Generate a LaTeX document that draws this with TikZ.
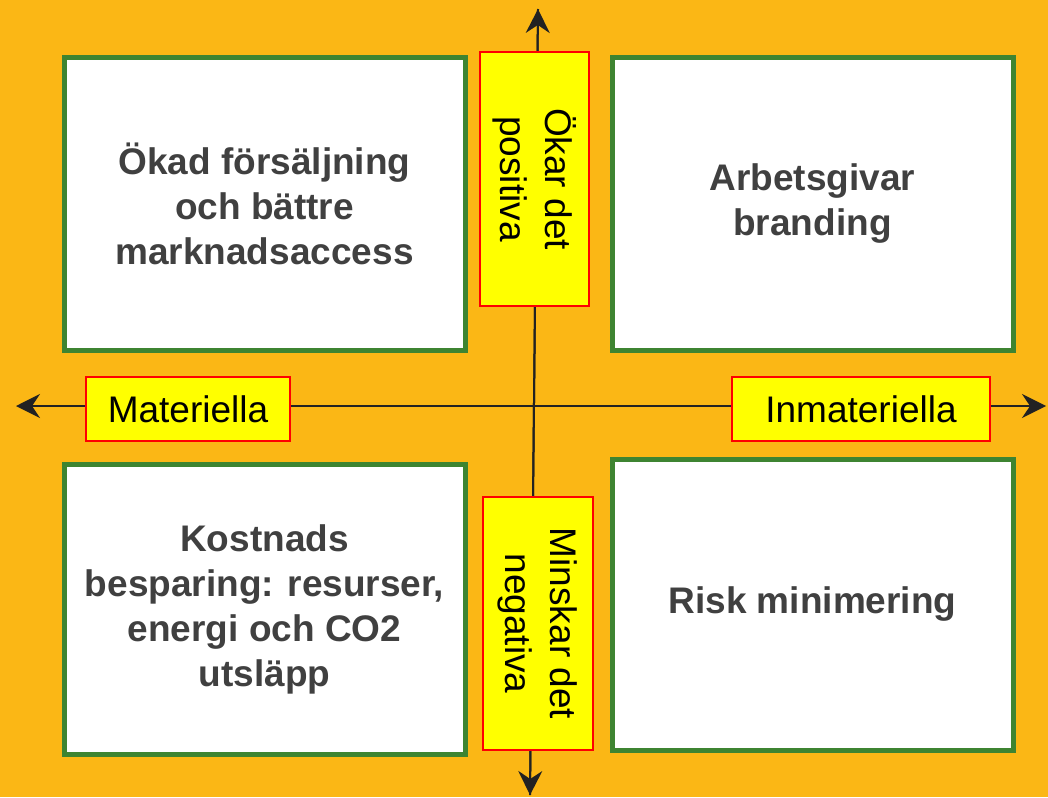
\documentclass[tikz,border=0pt]{standalone}
\usepackage{fontspec}
\setmainfont{Liberation Sans}
\usetikzlibrary{arrows.meta}
\definecolor{bg}{HTML}{FBB715}
\definecolor{boxgreen}{HTML}{3E8431}
\definecolor{txtgrey}{HTML}{404040}
\definecolor{lblyellow}{HTML}{FFFF00}
\definecolor{lblred}{HTML}{FF0000}
\definecolor{axis}{HTML}{222222}
\tikzset{
  quad/.style={draw=boxgreen, line width=5pt, fill=white, inner sep=0pt,
    minimum width=401pt, minimum height=292pt, align=center,
    font=\bfseries\fontsize{37}{45}\selectfont, text=txtgrey},
  lbl/.style={draw=lblred, line width=2pt, fill=lblyellow, inner sep=0pt,
    align=center, font=\fontsize{37}{45}\selectfont, text=black},
  axisline/.style={draw=axis, line width=2pt,
    -{Stealth[length=24pt, width=24pt, inset=8pt]}}
}
\begin{document}
\begin{tikzpicture}[x=1pt, y=-1pt]
\useasboundingbox[fill=bg] (0,0) rectangle (1048,797);
% axis end points
\coordinate (vtop) at (538,9);
\coordinate (vbot) at (530,795);
\coordinate (hleft) at (16,406);
\coordinate (hright) at (1046,406);
\coordinate (hmid) at (534,406);
\draw[axisline] (hmid) -- (hleft);
\draw[axisline] (hmid) -- (hright);
\draw[axisline] (vbot) -- (vtop);
\draw[axisline] (vtop) -- (vbot);
% quadrant boxes
\node[quad] (tl) at (264.5,204) {Ökad försäljning\\och bättre\\marknadsaccess};
\node[quad] (tr) at (812.5,204) {Arbetsgivar\\branding};
\node[quad, minimum height=290pt] (bl) at (264.5,609) {Kostnads\\besparing: resurser,\\energi och CO2\\utsläpp};
\node[quad, minimum height=291pt] (br) at (812.5,604.5) {Risk minimering};
% axis labels
\node[lbl, minimum width=204pt, minimum height=64pt] (mat) at (188,409) {Materiella};
\node[lbl, minimum width=258pt, minimum height=64pt] (inmat) at (861,409) {Inmateriella};
\node[lbl, rotate=-90, minimum width=254pt, minimum height=109pt] (pos) at (534.5,179) {Ökar det\\positiva};
\node[lbl, rotate=-90, minimum width=253pt, minimum height=110pt] (neg) at (538,623.5) {Minskar det\\negativa};
\end{tikzpicture}
\end{document}
